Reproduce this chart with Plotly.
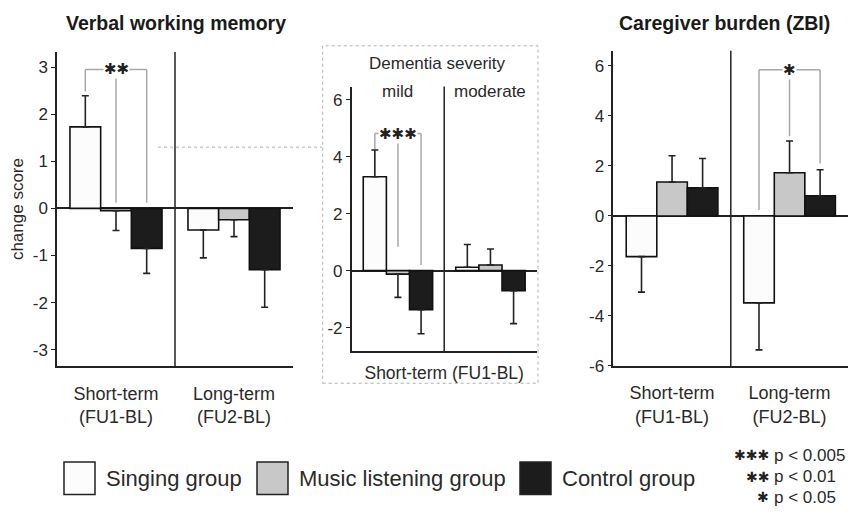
import plotly.graph_objects as go

W, H = 849, 525

# ---------------- data ----------------
groups = ["Singing group", "Music listening group", "Control group"]
periods = ["Short-term<br>(FU1-BL)", "Long-term<br>(FU2-BL)"]
severity = ["mild", "moderate"]

# Verbal working memory (change score), [short-term, long-term]
vwm_singing = [1.73, -0.46]
vwm_music = [-0.05, -0.24]
vwm_control = [-0.85, -1.30]
vwm_singing_se = [0.66, 0.59]
vwm_music_se = [0.42, 0.36]
vwm_control_se = [0.53, 0.80]

# Dementia severity, short-term (FU1-BL), [mild, moderate]
sev_singing = [3.30, 0.12]
sev_music = [-0.12, 0.20]
sev_control = [-1.37, -0.70]
sev_singing_se = [0.94, 0.80]
sev_music_se = [0.82, 0.56]
sev_control_se = [0.85, 1.16]

# Caregiver burden (ZBI), [short-term, long-term]
zbi_singing = [-1.63, -3.48]
zbi_music = [1.36, 1.73]
zbi_control = [1.13, 0.81]
zbi_singing_se = [1.42, 1.88]
zbi_music_se = [1.05, 1.27]
zbi_control_se = [1.17, 1.04]

vwm_ticks = [-3, -2, -1, 0, 1, 2, 3]
sev_ticks = [-2, 0, 2, 4, 6]
zbi_ticks = [-6, -4, -2, 0, 2, 4, 6]

# significance brackets: (category index, bracket level, leg ends [singing, music, control], stars)
vwm_bracket = (0, 2.95, [2.48, 0.12, 0.12], "✱✱")
sev_bracket = (0, 4.82, [4.28, 0.84, 0.20], "✱✱✱")
zbi_bracket = (1, 5.85, [0.24, 3.20, 2.10], "✱")

sig_levels = ["✱✱✱", "✱✱", "✱"]
sig_text = ["p < 0.005", "p < 0.01", "p < 0.05"]

# ---------------- style ----------------
FONT = "Liberation Sans, Arial, Helvetica, sans-serif"
STAR_FONT = "DejaVu Sans"
fills = ["#fcfcfc", "#c8c8c8", "#1c1c1c"]
TXT = "#2a2a2a"


def px(x):
    return x / W


def py(y):
    return 1 - y / H


panels = [
    dict(ax="", xd=(57, 293), yd=(53, 373.3), rng=(-3.35, 3.32), ticks=vwm_ticks,
         vals=[vwm_singing, vwm_music, vwm_control],
         se=[vwm_singing_se, vwm_music_se, vwm_control_se], w=0.26, br=vwm_bracket),
    dict(ax="2", xd=(351.7, 536.7), yd=(88.3, 357.7), rng=(-2.82, 6.47), ticks=sev_ticks,
         vals=[sev_singing, sev_music, sev_control],
         se=[sev_singing_se, sev_music_se, sev_control_se], w=0.25, br=sev_bracket),
    dict(ax="3", xd=(613.3, 848.3), yd=(51.7, 373), rng=(-6.0, 6.61), ticks=zbi_ticks,
         vals=[zbi_singing, zbi_music, zbi_control],
         se=[zbi_singing_se, zbi_music_se, zbi_control_se], w=0.26, br=zbi_bracket),
]

fig = go.Figure()
shapes = []
annotations = []

for p in panels:
    xa, ya = "x" + p["ax"], "y" + p["ax"]
    w = p["w"]
    for k in range(3):
        v = p["vals"][k]
        se = p["se"][k]
        up = [s if val >= 0 else 0 for val, s in zip(v, se)]
        dn = [s if val < 0 else 0 for val, s in zip(v, se)]
        fig.add_trace(go.Bar(
            x=[0, 1], y=v, width=w, offset=-1.5 * w + k * w,
            marker=dict(color=fills[k], line=dict(color="#111111", width=1.6)),
            error_y=dict(type="data", symmetric=False, array=up, arrayminus=dn,
                         color="#222222", thickness=1.6, width=3.5),
            name=groups[k], showlegend=False, xaxis=xa, yaxis=ya,
        ))
    # divider between categories
    shapes.append(dict(type="line", xref=xa, yref=ya + " domain", x0=0.5, x1=0.5, y0=0, y1=1,
                       line=dict(color="#222222", width=1.5)))
    # significance bracket
    cat, level, legs, stars = p["br"]
    cx = [cat - w, cat, cat + w]
    gray = "#a8a8a8"
    shapes.append(dict(type="line", xref=xa, yref=ya, x0=cx[0], x1=cx[2], y0=level, y1=level,
                       line=dict(color=gray, width=1.5)))
    for xk, le in zip(cx, legs):
        shapes.append(dict(type="line", xref=xa, yref=ya, x0=xk, x1=xk, y0=le, y1=level,
                           line=dict(color=gray, width=1.5)))
    annotations.append(dict(x=cx[1], y=level, xref=xa, yref=ya, text=stars, showarrow=False,
                            font=dict(family=STAR_FONT, size=15, color="#222222"),
                            bgcolor="white", borderpad=0, xanchor="center", yanchor="middle"))

axis_common = dict(showline=True, linecolor="#222222", linewidth=1.5, showgrid=False,
                   zeroline=False, fixedrange=True)

layout = dict(width=W, height=H, margin=dict(l=0, r=0, t=0, b=0),
              paper_bgcolor="white", plot_bgcolor="white", barmode="overlay",
              font=dict(family=FONT, color=TXT, size=17))

for p in panels:
    n = p["ax"]
    layout["xaxis" + n] = dict(
        axis_common, domain=[px(p["xd"][0]), px(p["xd"][1])], range=[-0.5, 1.5],
        anchor="y" + n, tickvals=[0, 1], ticktext=periods if n != "2" else ["", ""],
        ticks="", tickfont=dict(size=18, color=TXT), ticklabelstandoff=10,
        showticklabels=(n != "2"))
    layout["yaxis" + n] = dict(
        axis_common, domain=[py(p["yd"][1]), py(p["yd"][0])], range=list(p["rng"]),
        anchor="x" + n, tickvals=p["ticks"], ticktext=[str(t) for t in p["ticks"]],
        ticks="outside", ticklen=4, tickcolor="#222222", tickwidth=1.2,
        tickfont=dict(size=17, color=TXT),
        zeroline=True, zerolinecolor="#222222", zerolinewidth=1.5)

layout["yaxis"]["title"] = dict(text="change score", font=dict(size=17, color=TXT), standoff=5)
layout["xaxis2"]["title"] = dict(text="Short-term (FU1-BL)", font=dict(size=17.5, color=TXT), standoff=15)

# titles
annotations.append(dict(x=px(176), y=py(23), xref="paper", yref="paper", text="<b>Verbal working memory</b>",
                        showarrow=False, font=dict(size=19.5, color="#1a1a1a"), xanchor="center", yanchor="middle"))
annotations.append(dict(x=px(724), y=py(23), xref="paper", yref="paper", text="<b>Caregiver burden (ZBI)</b>",
                        showarrow=False, font=dict(size=19.5, color="#1a1a1a"), xanchor="center", yanchor="middle"))
# middle panel labels
annotations.append(dict(x=px(437), y=py(65), xref="paper", yref="paper", text="Dementia severity",
                        showarrow=False, font=dict(size=17, color=TXT), xanchor="center", yanchor="middle"))
for i, s in enumerate(severity):
    annotations.append(dict(x=i, y=py(93), xref="x2", yref="paper", text=s, showarrow=False,
                            font=dict(size=17, color=TXT), xanchor="center", yanchor="middle"))

# dotted box around inset and connector
shapes.append(dict(type="rect", xref="paper", yref="paper", x0=px(322.7), x1=px(538), y0=py(390.7), y1=py(46.7),
                   line=dict(color="#b0b0b0", width=1, dash="dot")))
shapes.append(dict(type="line", xref="paper", yref="paper", x0=px(158), x1=px(322), y0=py(150), y1=py(150),
                   line=dict(color="#b0b0b0", width=1, dash="dot")))

# legend
box_x = [64, 257, 520]
for k in range(3):
    shapes.append(dict(type="rect", xref="paper", yref="paper", x0=px(box_x[k]), x1=px(box_x[k] + 31),
                       y0=py(504), y1=py(471), fillcolor=fills[k], line=dict(color="#222222", width=1.5)))
    annotations.append(dict(x=px(box_x[k] + 40), y=py(488), xref="paper", yref="paper", text=groups[k],
                            showarrow=False, font=dict(size=22, color=TXT), xanchor="left", yanchor="middle"))
sig_y = [464, 486, 507]
for s, t, yy in zip(sig_levels, sig_text, sig_y):
    annotations.append(dict(x=px(771), y=py(yy), xref="paper", yref="paper", text=s, showarrow=False,
                            font=dict(family=STAR_FONT, size=14, color="#222222"), xanchor="right", yanchor="middle"))
    annotations.append(dict(x=px(772), y=py(yy), xref="paper", yref="paper", text=t, showarrow=False,
                            font=dict(size=17, color=TXT), xanchor="left", yanchor="middle"))

layout["shapes"] = shapes
layout["annotations"] = annotations
fig.update_layout(**layout)
fig.write_html("out.html", config={"displayModeBar": False},
               post_script="document.body.style.margin='0';document.body.style.overflow='hidden';")
